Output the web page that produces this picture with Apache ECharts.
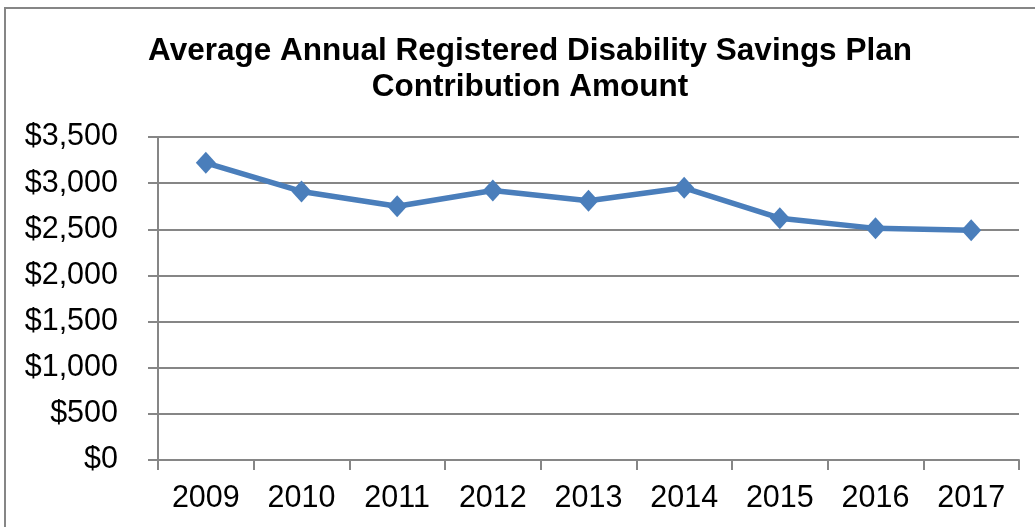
<!DOCTYPE html>
<html>
<head>
<meta charset="utf-8">
<script src="https://cdn.jsdelivr.net/npm/echarts@6/dist/echarts.min.js"></script>
<style>
  html, body { margin: 0; padding: 0; background: #ffffff; }
  #chart { width: 1035px; height: 527px; }
</style>
</head>
<body>
<div id="chart"></div>
<script>
// Average annual RDSP contribution per year
const years = ['2009', '2010', '2011', '2012', '2013', '2014', '2015', '2016', '2017'];
const avgContribution = [3220, 2910, 2750, 2920, 2810, 2950, 2620, 2510, 2490];
const yTicks = [0, 500, 1000, 1500, 2000, 2500, 3000, 3500];

const FONT = '"Liberation Sans", Arial, sans-serif';
const GRAY = '#868686';

const chart = echarts.init(document.getElementById('chart'), null, { renderer: 'canvas' });

chart.setOption({
  animation: false,
  backgroundColor: '#ffffff',
  title: {
    text: 'Average Annual Registered Disability Savings Plan\nContribution Amount',
    left: 525,
    top: 28,
    textAlign: 'center',
    textStyle: {
      fontFamily: FONT,
      fontWeight: 'bold',
      fontSize: 31.5,
      lineHeight: 36,
      color: '#000000'
    }
  },
  graphic: [
    {
      // chart frame
      type: 'polyline',
      shape: { points: [[5, 530], [5, 8], [1040, 8]] },
      style: { stroke: GRAY, lineWidth: 2, fill: null }
    }
  ],
  grid: { left: 158, right: 16, top: 137, bottom: 67 },
  xAxis: {
    type: 'category',
    data: years,
    boundaryGap: true,
    axisLine: { show: true, lineStyle: { color: GRAY, width: 2 } },
    axisTick: { show: true, length: 10, interval: 0, lineStyle: { color: GRAY, width: 2 } },
    axisLabel: { fontFamily: FONT, fontSize: 30.5, color: '#000000', margin: 23, interval: 0 },
    splitLine: { show: false }
  },
  yAxis: {
    type: 'value',
    min: yTicks[0],
    max: yTicks[yTicks.length - 1],
    interval: 500,
    axisLine: { show: true, lineStyle: { color: GRAY, width: 2 } },
    axisTick: { show: true, length: 10, lineStyle: { color: GRAY, width: 2 } },
    axisLabel: {
      fontFamily: FONT,
      fontSize: 30.5,
      color: '#000000',
      margin: 40,
      formatter: v => '$' + v.toLocaleString('en-US')
    },
    splitLine: { show: true, lineStyle: { color: GRAY, width: 2 } }
  },
  series: [
    {
      type: 'line',
      data: avgContribution,
      symbol: 'diamond',
      symbolSize: [20, 22],
      lineStyle: { color: '#4a7ebb', width: 5.5 },
      itemStyle: { color: '#4a7ebb' }
    }
  ]
});
</script>
</body>
</html>
